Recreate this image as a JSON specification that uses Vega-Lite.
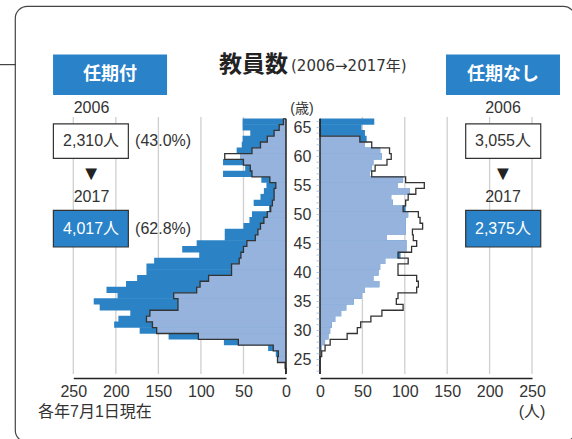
{
  "$schema": "https://vega.github.io/schema/vega-lite/v6.json",
  "width": 560,
  "height": 436,
  "autosize": {"type": "none"},
  "padding": {"left": 15, "top": 6, "right": 0, "bottom": 0},
  "background": "white",
  "config": {
    "view": {"stroke": "#444", "strokeWidth": 1.2, "cornerRadius": 12},
    "font": "Liberation Sans, Noto Sans CJK JP",
    "text": {"font": "Liberation Sans, Noto Sans CJK JP", "fontSize": 16, "color": "#333"},
    "axis": {"labelFont": "Liberation Sans", "labelFontSize": 16, "labelColor": "#333"}
  },
  "datasets": {
    "pyr": [
      {"s": "L", "age": 67, "y2006": 0, "y2017": 0},
      {"s": "L", "age": 66, "y2006": 3, "y2017": 51},
      {"s": "L", "age": 65, "y2006": 8, "y2017": 51},
      {"s": "L", "age": 64, "y2006": 14, "y2017": 42},
      {"s": "L", "age": 63, "y2006": 22, "y2017": 51},
      {"s": "L", "age": 62, "y2006": 30, "y2017": 52},
      {"s": "L", "age": 61, "y2006": 40, "y2017": 58},
      {"s": "L", "age": 60, "y2006": 72, "y2017": 54},
      {"s": "L", "age": 59, "y2006": 50, "y2017": 74},
      {"s": "L", "age": 58, "y2006": 42, "y2017": 48},
      {"s": "L", "age": 57, "y2006": 40, "y2017": 74},
      {"s": "L", "age": 56, "y2006": 19, "y2017": 29},
      {"s": "L", "age": 55, "y2006": 12, "y2017": 23},
      {"s": "L", "age": 54, "y2006": 14, "y2017": 26},
      {"s": "L", "age": 53, "y2006": 14, "y2017": 30},
      {"s": "L", "age": 52, "y2006": 16, "y2017": 38},
      {"s": "L", "age": 51, "y2006": 18, "y2017": 20},
      {"s": "L", "age": 50, "y2006": 22, "y2017": 40},
      {"s": "L", "age": 49, "y2006": 26, "y2017": 43},
      {"s": "L", "age": 48, "y2006": 30, "y2017": 50},
      {"s": "L", "age": 47, "y2006": 33, "y2017": 72},
      {"s": "L", "age": 46, "y2006": 36, "y2017": 72},
      {"s": "L", "age": 45, "y2006": 46, "y2017": 105},
      {"s": "L", "age": 44, "y2006": 50, "y2017": 122},
      {"s": "L", "age": 43, "y2006": 53, "y2017": 102},
      {"s": "L", "age": 42, "y2006": 55, "y2017": 155},
      {"s": "L", "age": 41, "y2006": 64, "y2017": 164},
      {"s": "L", "age": 40, "y2006": 64, "y2017": 164},
      {"s": "L", "age": 39, "y2006": 91, "y2017": 175},
      {"s": "L", "age": 38, "y2006": 101, "y2017": 188},
      {"s": "L", "age": 37, "y2006": 105, "y2017": 211},
      {"s": "L", "age": 36, "y2006": 132, "y2017": 198},
      {"s": "L", "age": 35, "y2006": 127, "y2017": 226},
      {"s": "L", "age": 34, "y2006": 127, "y2017": 219},
      {"s": "L", "age": 33, "y2006": 160, "y2017": 183},
      {"s": "L", "age": 32, "y2006": 164, "y2017": 197},
      {"s": "L", "age": 31, "y2006": 157, "y2017": 202},
      {"s": "L", "age": 30, "y2006": 152, "y2017": 172},
      {"s": "L", "age": 29, "y2006": 103, "y2017": 138},
      {"s": "L", "age": 28, "y2006": 56, "y2017": 73},
      {"s": "L", "age": 27, "y2006": 15, "y2017": 21},
      {"s": "L", "age": 26, "y2006": 9, "y2017": 12},
      {"s": "L", "age": 25, "y2006": 10, "y2017": 10},
      {"s": "L", "age": 24, "y2006": 1, "y2017": 1},
      {"s": "L", "age": 23, "y2006": 0, "y2017": 1},
      {"s": "R", "age": 67, "y2006": 0, "y2017": 0},
      {"s": "R", "age": 66, "y2006": 0, "y2017": 64},
      {"s": "R", "age": 65, "y2006": 0, "y2017": 49},
      {"s": "R", "age": 64, "y2006": 0, "y2017": 53},
      {"s": "R", "age": 63, "y2006": 47, "y2017": 55},
      {"s": "R", "age": 62, "y2006": 61, "y2017": 53},
      {"s": "R", "age": 61, "y2006": 82, "y2017": 71},
      {"s": "R", "age": 60, "y2006": 84, "y2017": 73},
      {"s": "R", "age": 59, "y2006": 79, "y2017": 63},
      {"s": "R", "age": 58, "y2006": 65, "y2017": 61},
      {"s": "R", "age": 57, "y2006": 61, "y2017": 59},
      {"s": "R", "age": 56, "y2006": 101, "y2017": 98},
      {"s": "R", "age": 55, "y2006": 123, "y2017": 92},
      {"s": "R", "age": 54, "y2006": 113, "y2017": 106},
      {"s": "R", "age": 53, "y2006": 104, "y2017": 84},
      {"s": "R", "age": 52, "y2006": 101, "y2017": 86},
      {"s": "R", "age": 51, "y2006": 98, "y2017": 101},
      {"s": "R", "age": 50, "y2006": 116, "y2017": 104},
      {"s": "R", "age": 49, "y2006": 118, "y2017": 101},
      {"s": "R", "age": 48, "y2006": 121, "y2017": 101},
      {"s": "R", "age": 47, "y2006": 109, "y2017": 101},
      {"s": "R", "age": 46, "y2006": 110, "y2017": 79},
      {"s": "R", "age": 45, "y2006": 114, "y2017": 102},
      {"s": "R", "age": 44, "y2006": 108, "y2017": 102},
      {"s": "R", "age": 43, "y2006": 92, "y2017": 95},
      {"s": "R", "age": 42, "y2006": 104, "y2017": 77},
      {"s": "R", "age": 41, "y2006": 92, "y2017": 71},
      {"s": "R", "age": 40, "y2006": 92, "y2017": 69},
      {"s": "R", "age": 39, "y2006": 114, "y2017": 63},
      {"s": "R", "age": 38, "y2006": 116, "y2017": 70},
      {"s": "R", "age": 37, "y2006": 114, "y2017": 53},
      {"s": "R", "age": 36, "y2006": 92, "y2017": 49},
      {"s": "R", "age": 35, "y2006": 90, "y2017": 40},
      {"s": "R", "age": 34, "y2006": 98, "y2017": 31},
      {"s": "R", "age": 33, "y2006": 73, "y2017": 25},
      {"s": "R", "age": 32, "y2006": 60, "y2017": 18},
      {"s": "R", "age": 31, "y2006": 48, "y2017": 14},
      {"s": "R", "age": 30, "y2006": 44, "y2017": 12},
      {"s": "R", "age": 29, "y2006": 32, "y2017": 10},
      {"s": "R", "age": 28, "y2006": 12, "y2017": 6},
      {"s": "R", "age": 27, "y2006": 6, "y2017": 2},
      {"s": "R", "age": 26, "y2006": 2, "y2017": 0},
      {"s": "R", "age": 25, "y2006": 0, "y2017": 0},
      {"s": "R", "age": 24, "y2006": 0, "y2017": 0},
      {"s": "R", "age": 23, "y2006": 0, "y2017": 0}
    ],
    "grid": [{"g": 50}, {"g": 100}, {"g": 150}, {"g": 200}, {"g": 250}],
    "one": [{}]
  },
  "layer": [
    {
      "layer": [
        {
          "data": {"name": "grid"},
          "mark": {"type": "rule", "color": "#cfcfcf", "strokeWidth": 1.3},
          "encoding": {
            "x": {"field": "g", "type": "quantitative", "scale": {"domain": [0, 250], "range": [271, 58.3], "nice": false},
                  "axis": {"orient": "bottom", "offset": -64, "values": [0, 50, 100, 150, 200, 250], "grid": false, "ticks": false, "tickSize": 0, "labelPadding": 5, "domainColor": "#222", "domainWidth": 1.6, "title": null, "labelFlush": false}},
            "y": {"datum": 22.5, "type": "quantitative", "scale": {"domain": [22.5, 66.5], "range": [373, 107.7], "nice": false},
                  "axis": {"orient": "left", "offset": -287, "values": [25, 30, 35, 40, 45, 50, 55, 60, 65], "domain": false, "ticks": false, "tickSize": 0, "labelPadding": 0, "labelAlign": "center", "labelBaseline": "middle", "grid": false, "title": null}},
            "y2": {"datum": 66.8}
          }
        },
        {
          "data": {"name": "pyr"},
          "transform": [{"filter": "datum.s == 'L'"}],
          "mark": {"type": "bar", "orient": "horizontal", "height": 6.3, "color": "#2b83c6"},
          "encoding": {
            "x": {"field": "y2017", "type": "quantitative", "scale": {"domain": [0, 250], "range": [271, 58.3], "nice": false}},
            "x2": {"datum": 0},
            "y": {"field": "age", "type": "quantitative", "scale": {"domain": [22.5, 66.5], "range": [373, 107.7], "nice": false}}
          }
        },
        {
          "data": {"name": "pyr"},
          "transform": [
            {"filter": "datum.s == 'L'"},
            {"fold": ["y2006", "y2017"]},
            {"aggregate": [{"op": "min", "field": "value", "as": "both"}], "groupby": ["age"]}
          ],
          "mark": {"type": "bar", "orient": "horizontal", "height": 6.3, "color": "#95b3dd"},
          "encoding": {
            "x": {"field": "both", "type": "quantitative", "scale": {"domain": [0, 250], "range": [271, 58.3], "nice": false}},
            "x2": {"datum": 0},
            "y": {"field": "age", "type": "quantitative", "scale": {"domain": [22.5, 66.5], "range": [373, 107.7], "nice": false}}
          }
        },
        {
          "data": {"name": "pyr"},
          "transform": [{"filter": "datum.s == 'L'"}],
          "mark": {"type": "line", "interpolate": "step-before", "color": "#333", "strokeWidth": 1.3, "yOffset": 3},
          "encoding": {
            "x": {"field": "y2006", "type": "quantitative", "scale": {"domain": [0, 250], "range": [271, 58.3], "nice": false}},
            "y": {"field": "age", "type": "quantitative", "scale": {"domain": [22.5, 66.5], "range": [373, 107.7], "nice": false}},
            "order": {"field": "age", "type": "quantitative"}
          }
        },
        {
          "data": {"name": "one"},
          "mark": {"type": "rule", "color": "#222", "strokeWidth": 1.5},
          "encoding": {
            "x": {"datum": 0, "type": "quantitative", "scale": {"domain": [0, 250], "range": [271, 58.3], "nice": false}},
            "y": {"datum": 22.5, "type": "quantitative", "scale": {"domain": [22.5, 66.5], "range": [373, 107.7], "nice": false}},
            "y2": {"datum": 66.5}
          }
        },
        {
          "data": {"name": "one"},
          "mark": {"type": "rect", "color": "#2a82c8"},
          "encoding": {
            "x": {"datum": 273.8, "type": "quantitative", "scale": {"domain": [0, 250], "range": [271, 58.3], "nice": false}},
            "x2": {"datum": 139.8},
            "y": {"datum": 77.56, "type": "quantitative", "scale": {"domain": [22.5, 66.5], "range": [373, 107.7], "nice": false}},
            "y2": {"datum": 70.59}
          }
        },
        {
          "data": {"name": "one"},
          "mark": {"type": "text", "text": "任期付", "color": "white", "fontSize": 18, "fontWeight": "bold", "align": "center", "baseline": "middle"},
          "encoding": {
            "x": {"datum": 206.8, "type": "quantitative", "scale": {"domain": [0, 250], "range": [271, 58.3], "nice": false}},
            "y": {"datum": 74.08, "type": "quantitative", "scale": {"domain": [22.5, 66.5], "range": [373, 107.7], "nice": false}}
          }
        },
        {
          "data": {"name": "one"},
          "mark": {"type": "text", "text": "2006", "align": "center", "baseline": "middle"},
          "encoding": {
            "x": {"datum": 228.6, "type": "quantitative", "scale": {"domain": [0, 250], "range": [271, 58.3], "nice": false}},
            "y": {"datum": 68.27, "type": "quantitative", "scale": {"domain": [22.5, 66.5], "range": [373, 107.7], "nice": false}}
          }
        },
        {
          "data": {"name": "one"},
          "mark": {"type": "rect", "fill": "white", "stroke": "#333", "strokeWidth": 1.2},
          "encoding": {
            "x": {"datum": 273.4, "type": "quantitative", "scale": {"domain": [0, 250], "range": [271, 58.3], "nice": false}},
            "x2": {"datum": 185.3},
            "y": {"datum": 65.62, "type": "quantitative", "scale": {"domain": [22.5, 66.5], "range": [373, 107.7], "nice": false}},
            "y2": {"datum": 59.65}
          }
        },
        {
          "data": {"name": "one"},
          "mark": {"type": "text", "text": "2,310人", "align": "center", "baseline": "middle"},
          "encoding": {
            "x": {"datum": 229.1, "type": "quantitative", "scale": {"domain": [0, 250], "range": [271, 58.3], "nice": false}},
            "y": {"datum": 62.63, "type": "quantitative", "scale": {"domain": [22.5, 66.5], "range": [373, 107.7], "nice": false}}
          }
        },
        {
          "data": {"name": "one"},
          "mark": {"type": "text", "text": "(43.0%)", "align": "left", "baseline": "middle"},
          "encoding": {
            "x": {"datum": 177.4, "type": "quantitative", "scale": {"domain": [0, 250], "range": [271, 58.3], "nice": false}},
            "y": {"datum": 62.63, "type": "quantitative", "scale": {"domain": [22.5, 66.5], "range": [373, 107.7], "nice": false}}
          }
        },
        {
          "data": {"name": "one"},
          "mark": {"type": "text", "text": "▼", "fontSize": 20, "color": "#222", "align": "center", "baseline": "middle"},
          "encoding": {
            "x": {"datum": 229.1, "type": "quantitative", "scale": {"domain": [0, 250], "range": [271, 58.3], "nice": false}},
            "y": {"datum": 56.99, "type": "quantitative", "scale": {"domain": [22.5, 66.5], "range": [373, 107.7], "nice": false}}
          }
        },
        {
          "data": {"name": "one"},
          "mark": {"type": "text", "text": "2017", "align": "center", "baseline": "middle"},
          "encoding": {
            "x": {"datum": 228.6, "type": "quantitative", "scale": {"domain": [0, 250], "range": [271, 58.3], "nice": false}},
            "y": {"datum": 53.01, "type": "quantitative", "scale": {"domain": [22.5, 66.5], "range": [373, 107.7], "nice": false}}
          }
        },
        {
          "data": {"name": "one"},
          "mark": {"type": "rect", "fill": "#2a82c8", "stroke": "#333", "strokeWidth": 1.2},
          "encoding": {
            "x": {"datum": 273.4, "type": "quantitative", "scale": {"domain": [0, 250], "range": [271, 58.3], "nice": false}},
            "x2": {"datum": 185.3},
            "y": {"datum": 50.69, "type": "quantitative", "scale": {"domain": [22.5, 66.5], "range": [373, 107.7], "nice": false}},
            "y2": {"datum": 44.39}
          }
        },
        {
          "data": {"name": "one"},
          "mark": {"type": "text", "text": "4,017人", "color": "white", "align": "center", "baseline": "middle"},
          "encoding": {
            "x": {"datum": 229.1, "type": "quantitative", "scale": {"domain": [0, 250], "range": [271, 58.3], "nice": false}},
            "y": {"datum": 47.54, "type": "quantitative", "scale": {"domain": [22.5, 66.5], "range": [373, 107.7], "nice": false}}
          }
        },
        {
          "data": {"name": "one"},
          "mark": {"type": "text", "text": "(62.8%)", "align": "left", "baseline": "middle"},
          "encoding": {
            "x": {"datum": 177.4, "type": "quantitative", "scale": {"domain": [0, 250], "range": [271, 58.3], "nice": false}},
            "y": {"datum": 47.54, "type": "quantitative", "scale": {"domain": [22.5, 66.5], "range": [373, 107.7], "nice": false}}
          }
        },
        {
          "data": {"name": "one"},
          "mark": {"type": "text", "text": "各年7月1日現在", "align": "left", "baseline": "middle"},
          "encoding": {
            "x": {"datum": 291.4, "type": "quantitative", "scale": {"domain": [0, 250], "range": [271, 58.3], "nice": false}},
            "y": {"datum": 16.03, "type": "quantitative", "scale": {"domain": [22.5, 66.5], "range": [373, 107.7], "nice": false}}
          }
        },
        {
          "data": {"name": "one"},
          "mark": {"type": "rule", "color": "#444", "strokeWidth": 1.2},
          "encoding": {
            "x": {"datum": 340, "type": "quantitative", "scale": {"domain": [0, 250], "range": [271, 58.3], "nice": false}},
            "x2": {"datum": 317.3},
            "y": {"datum": 75.82, "type": "quantitative", "scale": {"domain": [22.5, 66.5], "range": [373, 107.7], "nice": false}}
          }
        },
        {
          "data": {"name": "one"},
          "mark": {"type": "text", "text": "教員数", "fontSize": 23, "fontWeight": "bold", "color": "#222", "align": "right", "baseline": "middle"},
          "encoding": {
            "x": {"datum": -2.35, "type": "quantitative", "scale": {"domain": [0, 250], "range": [271, 58.3], "nice": false}},
            "y": {"datum": 75.73, "type": "quantitative", "scale": {"domain": [22.5, 66.5], "range": [373, 107.7], "nice": false}}
          }
        },
        {
          "data": {"name": "one"},
          "mark": {"type": "text", "text": "(2006→2017年)", "font": "DejaVu Sans, Noto Sans CJK JP", "fontSize": 15, "color": "#333", "align": "left", "baseline": "middle"},
          "encoding": {
            "x": {"datum": -5.9, "type": "quantitative", "scale": {"domain": [0, 250], "range": [271, 58.3], "nice": false}},
            "y": {"datum": 75.57, "type": "quantitative", "scale": {"domain": [22.5, 66.5], "range": [373, 107.7], "nice": false}}
          }
        }
      ]
    },
    {
      "layer": [
        {
          "data": {"name": "grid"},
          "mark": {"type": "rule", "color": "#cfcfcf", "strokeWidth": 1.3},
          "encoding": {
            "x": {"field": "g", "type": "quantitative", "scale": {"domain": [0, 250], "range": [305, 517], "nice": false},
                  "axis": {"orient": "bottom", "offset": -64, "values": [0, 50, 100, 150, 200, 250], "grid": false, "ticks": false, "tickSize": 0, "labelPadding": 5, "domainColor": "#222", "domainWidth": 1.6, "title": null, "labelFlush": false}},
            "y": {"datum": 22.5, "type": "quantitative", "scale": {"domain": [22.5, 66.5], "range": [373, 107.7], "nice": false}},
            "y2": {"datum": 66.8}
          }
        },
        {
          "data": {"name": "pyr"},
          "transform": [{"filter": "datum.s == 'R'"}],
          "mark": {"type": "bar", "orient": "horizontal", "height": 6.3, "color": "#2b83c6"},
          "encoding": {
            "x": {"field": "y2017", "type": "quantitative", "scale": {"domain": [0, 250], "range": [305, 517], "nice": false}},
            "x2": {"datum": 0},
            "y": {"field": "age", "type": "quantitative", "scale": {"domain": [22.5, 66.5], "range": [373, 107.7], "nice": false}}
          }
        },
        {
          "data": {"name": "pyr"},
          "transform": [
            {"filter": "datum.s == 'R'"},
            {"fold": ["y2006", "y2017"]},
            {"aggregate": [{"op": "min", "field": "value", "as": "both"}], "groupby": ["age"]}
          ],
          "mark": {"type": "bar", "orient": "horizontal", "height": 6.3, "color": "#95b3dd"},
          "encoding": {
            "x": {"field": "both", "type": "quantitative", "scale": {"domain": [0, 250], "range": [305, 517], "nice": false}},
            "x2": {"datum": 0},
            "y": {"field": "age", "type": "quantitative", "scale": {"domain": [22.5, 66.5], "range": [373, 107.7], "nice": false}}
          }
        },
        {
          "data": {"name": "pyr"},
          "transform": [{"filter": "datum.s == 'R'"}],
          "mark": {"type": "line", "interpolate": "step-before", "color": "#333", "strokeWidth": 1.3, "yOffset": 3},
          "encoding": {
            "x": {"field": "y2006", "type": "quantitative", "scale": {"domain": [0, 250], "range": [305, 517], "nice": false}},
            "y": {"field": "age", "type": "quantitative", "scale": {"domain": [22.5, 66.5], "range": [373, 107.7], "nice": false}},
            "order": {"field": "age", "type": "quantitative"}
          }
        },
        {
          "data": {"name": "one"},
          "mark": {"type": "rule", "color": "#222", "strokeWidth": 1.5},
          "encoding": {
            "x": {"datum": 0, "type": "quantitative", "scale": {"domain": [0, 250], "range": [305, 517], "nice": false}},
            "y": {"datum": 22.5, "type": "quantitative", "scale": {"domain": [22.5, 66.5], "range": [373, 107.7], "nice": false}},
            "y2": {"datum": 66.5}
          }
        },
        {
          "data": {"name": "pyr"},
          "transform": [{"filter": "datum.s == 'R' && datum.age <= 66"}],
          "mark": {"type": "tick", "orient": "horizontal", "size": 3, "thickness": 1, "color": "#8fb0dc"},
          "encoding": {
            "x": {"datum": -2.4, "type": "quantitative", "scale": {"domain": [0, 250], "range": [305, 517], "nice": false}},
            "y": {"field": "age", "type": "quantitative", "scale": {"domain": [22.5, 66.5], "range": [373, 107.7], "nice": false}}
          }
        },
        {
          "data": {"name": "one"},
          "mark": {"type": "rect", "color": "#2a82c8"},
          "encoding": {
            "x": {"datum": 148.6, "type": "quantitative", "scale": {"domain": [0, 250], "range": [305, 517], "nice": false}},
            "x2": {"datum": 283},
            "y": {"datum": 77.56, "type": "quantitative", "scale": {"domain": [22.5, 66.5], "range": [373, 107.7], "nice": false}},
            "y2": {"datum": 70.59}
          }
        },
        {
          "data": {"name": "one"},
          "mark": {"type": "text", "text": "任期なし", "color": "white", "fontSize": 18, "fontWeight": "bold", "align": "center", "baseline": "middle"},
          "encoding": {
            "x": {"datum": 215.8, "type": "quantitative", "scale": {"domain": [0, 250], "range": [305, 517], "nice": false}},
            "y": {"datum": 74.08, "type": "quantitative", "scale": {"domain": [22.5, 66.5], "range": [373, 107.7], "nice": false}}
          }
        },
        {
          "data": {"name": "one"},
          "mark": {"type": "text", "text": "2006", "align": "center", "baseline": "middle"},
          "encoding": {
            "x": {"datum": 215.8, "type": "quantitative", "scale": {"domain": [0, 250], "range": [305, 517], "nice": false}},
            "y": {"datum": 68.27, "type": "quantitative", "scale": {"domain": [22.5, 66.5], "range": [373, 107.7], "nice": false}}
          }
        },
        {
          "data": {"name": "one"},
          "mark": {"type": "rect", "fill": "white", "stroke": "#333", "strokeWidth": 1.2},
          "encoding": {
            "x": {"datum": 171.8, "type": "quantitative", "scale": {"domain": [0, 250], "range": [305, 517], "nice": false}},
            "x2": {"datum": 260.3},
            "y": {"datum": 65.62, "type": "quantitative", "scale": {"domain": [22.5, 66.5], "range": [373, 107.7], "nice": false}},
            "y2": {"datum": 59.65}
          }
        },
        {
          "data": {"name": "one"},
          "mark": {"type": "text", "text": "3,055人", "align": "center", "baseline": "middle"},
          "encoding": {
            "x": {"datum": 215.8, "type": "quantitative", "scale": {"domain": [0, 250], "range": [305, 517], "nice": false}},
            "y": {"datum": 62.63, "type": "quantitative", "scale": {"domain": [22.5, 66.5], "range": [373, 107.7], "nice": false}}
          }
        },
        {
          "data": {"name": "one"},
          "mark": {"type": "text", "text": "▼", "fontSize": 20, "color": "#222", "align": "center", "baseline": "middle"},
          "encoding": {
            "x": {"datum": 215.8, "type": "quantitative", "scale": {"domain": [0, 250], "range": [305, 517], "nice": false}},
            "y": {"datum": 56.99, "type": "quantitative", "scale": {"domain": [22.5, 66.5], "range": [373, 107.7], "nice": false}}
          }
        },
        {
          "data": {"name": "one"},
          "mark": {"type": "text", "text": "2017", "align": "center", "baseline": "middle"},
          "encoding": {
            "x": {"datum": 215.8, "type": "quantitative", "scale": {"domain": [0, 250], "range": [305, 517], "nice": false}},
            "y": {"datum": 53.01, "type": "quantitative", "scale": {"domain": [22.5, 66.5], "range": [373, 107.7], "nice": false}}
          }
        },
        {
          "data": {"name": "one"},
          "mark": {"type": "rect", "fill": "#2a82c8", "stroke": "#333", "strokeWidth": 1.2},
          "encoding": {
            "x": {"datum": 171.8, "type": "quantitative", "scale": {"domain": [0, 250], "range": [305, 517], "nice": false}},
            "x2": {"datum": 260.3},
            "y": {"datum": 50.69, "type": "quantitative", "scale": {"domain": [22.5, 66.5], "range": [373, 107.7], "nice": false}},
            "y2": {"datum": 44.39}
          }
        },
        {
          "data": {"name": "one"},
          "mark": {"type": "text", "text": "2,375人", "color": "white", "align": "center", "baseline": "middle"},
          "encoding": {
            "x": {"datum": 215.8, "type": "quantitative", "scale": {"domain": [0, 250], "range": [305, 517], "nice": false}},
            "y": {"datum": 47.54, "type": "quantitative", "scale": {"domain": [22.5, 66.5], "range": [373, 107.7], "nice": false}}
          }
        },
        {
          "data": {"name": "one"},
          "mark": {"type": "text", "text": "(人)", "align": "center", "baseline": "middle"},
          "encoding": {
            "x": {"datum": 250, "type": "quantitative", "scale": {"domain": [0, 250], "range": [305, 517], "nice": false}},
            "y": {"datum": 16.03, "type": "quantitative", "scale": {"domain": [22.5, 66.5], "range": [373, 107.7], "nice": false}}
          }
        },
        {
          "data": {"name": "one"},
          "mark": {"type": "text", "text": "(歳)", "fontSize": 14, "align": "center", "baseline": "middle"},
          "encoding": {
            "x": {"datum": -21.2, "type": "quantitative", "scale": {"domain": [0, 250], "range": [305, 517], "nice": false}},
            "y": {"datum": 68.1, "type": "quantitative", "scale": {"domain": [22.5, 66.5], "range": [373, 107.7], "nice": false}}
          }
        }
      ]
    }
  ],
  "resolve": {"scale": {"x": "independent"}, "axis": {"x": "independent"}}
}
